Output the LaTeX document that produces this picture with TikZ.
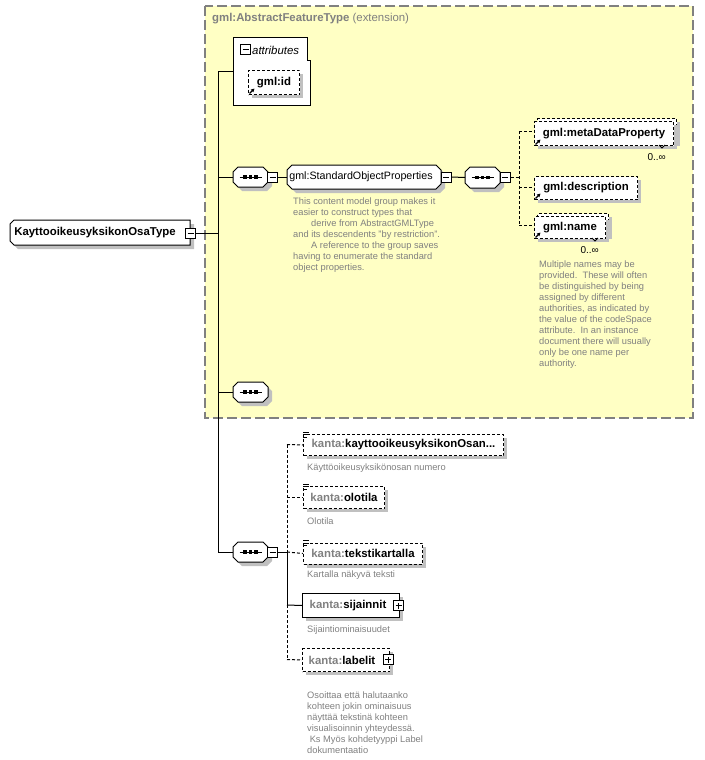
\documentclass[tikz,border=0pt]{standalone}
\usepackage{fontspec}
\setmainfont{Liberation Sans}
\usetikzlibrary{arrows.meta}
\definecolor{yel}{HTML}{FFFFC4}
\definecolor{shdcol}{HTML}{C0C0C0}
\definecolor{txtgray}{HTML}{808080}
\definecolor{bordgray}{HTML}{808080}
% outline with cut corners: x1 y1 x2 y2 (y downwards) leftcut rightcut
\newcommand\chamfpath[6]{%
  \fill[shdcol] ({#1+#5+4},{#2+4}) -- ({#3-#6+4},{#2+4}) -- ({#3+4},{#2+#6+4}) -- ({#3+4},{#4-#6+4})
    -- ({#3-#6+4},{#4+4}) -- ({#1+#5+4},{#4+4}) -- ({#1+4},{#4-#5+4}) -- ({#1+4},{#2+#5+4}) -- cycle;
  \draw[fill=white, line width=1pt] ({#1+#5},{#2}) -- ({#3-#6},{#2}) -- ({#3},{#2+#6}) -- ({#3},{#4-#6})
    -- ({#3-#6},{#4}) -- ({#1+#5},{#4}) -- ({#1},{#4-#5}) -- ({#1},{#2+#5}) -- cycle;}
% drop shadow of a box: x y w h (y downwards)
\newcommand\boxshadow[4]{\fill[shdcol] ({#1+4},{#2+4}) rectangle ({#1+#3+4},{#2+#4+4});}
\newcommand\seqsym[1]{%
  \draw[line width=1pt] ([xshift=-11pt]#1.center) -- ([xshift=11pt]#1.center);
  \foreach \dx in {-5.5,0,5.5} \fill[black] ([xshift=\dx pt]#1.center) +(-1.6,-1.6) rectangle +(1.6,1.6);}
\begin{document}
\begin{tikzpicture}[x=1pt,y=-1pt,
  elem/.style={draw, fill=white, line width=1pt, inner sep=0pt, anchor=north west,
     font=\fontsize{11.4}{13}\selectfont\bfseries},
  optl/.style={dash pattern=on 3pt off 2pt},
  conn/.style={line width=1pt},
  connopt/.style={line width=1pt, dash pattern=on 3pt off 2pt},
  anon/.style={inner sep=0pt, outer sep=0pt},
  pmbox/.style={draw, fill=white, line width=1pt, inner sep=0pt, minimum size=10pt},
  minusbox/.style={pmbox, path picture={\draw[line width=1pt] ([xshift=2pt]path picture bounding box.west) -- ([xshift=-2pt]path picture bounding box.east);}},
  plusbox/.style={pmbox, path picture={\draw[line width=1pt] ([xshift=2pt]path picture bounding box.west) -- ([xshift=-2pt]path picture bounding box.east);
       \draw[line width=1pt] ([yshift=2pt]path picture bounding box.south) -- ([yshift=-2pt]path picture bounding box.north);}},
  desc/.style={anchor=north west, inner sep=0pt, align=left, text=txtgray, font=\fontsize{9.3}{11}\selectfont},
  sdesc/.style={anchor=west, inner sep=0pt, text=txtgray, font=\fontsize{9.3}{11}\selectfont},
  mult/.style={anchor=east, inner sep=0pt, font=\fontsize{10}{12}\selectfont},
  refarrow/.style={line width=1.1pt, -{Triangle[length=3.5pt,width=3.5pt]}},
  icon/.style={line width=0.8pt}
]
\useasboundingbox (0,0) rectangle (704,760);

% extension container
\draw[fill=yel, draw=bordgray, line width=1.3pt, dash pattern=on 10pt off 4pt] (205,6) rectangle (693,418);
\node[anchor=west, inner sep=0pt, text=txtgray, font=\fontsize{11.4}{13}\selectfont] (ext) at (212,19)
  {\bfseries gml:AbstractFeatureType\mdseries{} (extension)};

% attributes
\draw[fill=white, line width=1pt] (233,38) -- (307,38) -- (307,61) -- (310,61) -- (310,105) -- (233,105) -- cycle;
\node[minusbox] (am) at (245.5,49.5) {};
\node[anchor=west, inner sep=0pt, font=\fontsize{11.4}{13}\selectfont\itshape] (attr) at (252,50) {attributes};
\boxshadow{248}{70}{51}{24}
\node[elem, optl, minimum width=51pt, minimum height=24pt] (gid) at (248,70) {gml:id};
\draw[refarrow] ([xshift=1.5pt,yshift=1.5pt]gid.south west) -- ++(5,-5);

% main element
\chamfpath{10}{220}{190}{245}{4}{0}
\node[anon, minimum width=180pt, minimum height=25pt, font=\fontsize{11.4}{13}\selectfont\bfseries]
  (main) at (100,232.5) {KayttooikeusyksikonOsaType\hspace*{10pt}};
\node[minusbox] (mm) at (190.5,233) {};

% main vertical line
\coordinate (vtop) at (218,72);
\coordinate (vbot) at (218,552);
\coordinate (attrin) at (233,72);
\draw[conn] (vtop) -- (vbot);
\draw[conn] (vtop) -- (attrin);
\draw[conn] (mm.east) -- (mm.east -| vtop);

% sequence 1 and group
\chamfpath{233}{167}{268}{187}{5}{5}
\node[anon, minimum width=35pt, minimum height=20pt] (s1) at (250.5,177) {};
\seqsym{s1}
\node[minusbox] (m1) at (272.5,177) {};
\draw[conn] (s1.west -| vtop) -- (s1.west);
\chamfpath{287}{165}{441}{189}{5}{5}
\node[anon, minimum width=154pt, minimum height=24pt, font=\fontsize{10.7}{13}\selectfont]
  (sop) at (364,177) {gml:StandardObjectProperties\hspace*{6pt}};
\node[minusbox] (m2) at (446,177) {};
\draw[conn] (m1.east) -- (sop.west);
\node[desc] (sopdesc) at (293,198) {This content model group makes it\\
easier to construct types that\\
\hspace*{18pt}derive from AbstractGMLType\\
and its descendents "by restriction".\\
\hspace*{18pt}A reference to the group saves\\
having to enumerate the standard\\
object properties.};

\chamfpath{465}{167}{500}{188}{5}{5}
\node[anon, minimum width=35pt, minimum height=21pt] (s2) at (482.5,177.5) {};
\seqsym{s2}
\node[minusbox] (m3) at (505,177) {};
\draw[conn] (m2.east) -- (s2.west);
\coordinate (j2) at (519,177);
\coordinate (ja) at (519,131);
\coordinate (jb) at (519,187.5);
\coordinate (jc) at (519,225);
\draw[connopt] (m3.east) -- (j2);
\draw[connopt] (ja) -- (jc);

% metaDataProperty (multiple)
\boxshadow{537}{118}{139}{24}
\node[elem, optl, minimum width=139pt, minimum height=24pt] (metab) at (537,118) {};
\boxshadow{534}{121}{139}{24}
\node[elem, optl, minimum width=139pt, minimum height=24pt] (meta) at (534,121) {gml:metaDataProperty};
\draw[refarrow] ([xshift=1.5pt,yshift=1.5pt]meta.south west) -- ++(5,-5);
\draw[line width=0.8pt] (659,145) -- (662,148) -- (665,145);
\node[mult] (metam) at (666,157) {0..∞};
\draw[connopt] (ja) -- (ja -| meta.west);

% description
\boxshadow{534}{176}{103}{23}
\node[elem, optl, minimum width=103pt, minimum height=23pt] (gdesc) at (534,176) {gml:description};
\draw[refarrow] ([xshift=1.5pt,yshift=1.5pt]gdesc.south west) -- ++(5,-5);
\draw[connopt] (jb) -- (jb -| gdesc.west);

% name (multiple)
\boxshadow{537}{213}{71}{22}
\node[elem, optl, minimum width=71pt, minimum height=22pt] (nameb) at (537,213) {};
\boxshadow{534}{216}{71}{22}
\node[elem, optl, minimum width=71pt, minimum height=22pt] (gname) at (534,216) {gml:name};
\draw[refarrow] ([xshift=1.5pt,yshift=1.5pt]gname.south west) -- ++(5,-5);
\draw[line width=0.8pt] (592,238) -- (595,241) -- (598,238);
\node[mult] (namem) at (599,250) {0..∞};
\draw[connopt] (jc) -- (jc -| gname.west);
\node[desc] (namedesc) at (539,261) {Multiple names may be\\
provided.\ \ These will often\\
be distinguished by being\\
assigned by different\\
authorities, as indicated by\\
the value of the codeSpace\\
attribute.\ \ In an instance\\
document there will usually\\
only be one name per\\
authority.};

% sequence 3 (empty)
\chamfpath{233}{382}{268}{402}{5}{5}
\node[anon, minimum width=35pt, minimum height=20pt] (s3) at (250.5,392) {};
\seqsym{s3}
\draw[conn] (s3.west -| vtop) -- (s3.west);

% sequence 4
\chamfpath{233}{542}{268}{562}{5}{5}
\node[anon, minimum width=35pt, minimum height=20pt] (s4) at (250.5,552) {};
\seqsym{s4}
\node[minusbox] (m4) at (272.5,552) {};
\draw[conn] (vbot) -- (s4.west);
\coordinate (ka) at (287,444.5);
\coordinate (kc) at (287,552);
\coordinate (kd) at (287,605);
\coordinate (ke) at (287,659.5);
\draw[conn] (m4.east) -- (kc);
\draw[connopt] (ka) -- (kc);
\draw[conn] (kc) -- (kd);
\draw[connopt] (kd) -- (ke);

% kanta elements
\boxshadow{303}{434}{200}{21}
\node[elem, optl, minimum width=200pt, minimum height=21pt] (k1) at (303,434)
  {\textcolor{txtgray}{kanta:}kayttooikeusyksikonOsan...};
\draw[icon] (303,432) -- ++(6,0) (303,434.5) -- ++(6,0) (303,437) -- ++(4,0);
\node[sdesc] (k1d) at (307,468) {Käyttöoikeusyksikönosan numero};
\draw[connopt] (ka) -- (k1.west);

\boxshadow{303}{486}{81}{22}
\node[elem, optl, minimum width=81pt, minimum height=22pt] (k2) at (303,486)
  {\textcolor{txtgray}{kanta:}olotila};
\draw[icon] (303,484) -- ++(6,0) (303,486.5) -- ++(6,0) (303,489) -- ++(4,0);
\node[sdesc] (k2d) at (307,521) {Olotila};
\draw[connopt] (k2.west -| ka) -- (k2.west);

\boxshadow{303}{542.5}{119}{21}
\node[elem, optl, minimum width=119pt, minimum height=21pt] (k3) at (303,542.5)
  {\textcolor{txtgray}{kanta:}tekstikartalla};
\draw[icon] (303,540.5) -- ++(6,0) (303,543) -- ++(6,0) (303,545.5) -- ++(4,0);
\node[sdesc] (k3d) at (307,575) {Kartalla näkyvä teksti};
\draw[connopt] (kc) -- (k3.west);

\boxshadow{302}{593}{97}{24}
\node[elem, minimum width=97pt, minimum height=24pt] (k4) at (302,593)
  {\textcolor{txtgray}{kanta:}sijainnit\hspace*{6pt}};
\node[plusbox] (p4) at (398.5,605.5) {};
\node[sdesc] (k4d) at (307,630) {Sijaintiominaisuudet};
\draw[conn] (kd) -- (k4.west);

\boxshadow{302}{648}{87}{23}
\node[elem, optl, minimum width=87pt, minimum height=23pt] (k5) at (302,648)
  {\textcolor{txtgray}{kanta:}labelit\hspace*{8pt}};
\node[plusbox] (p5) at (388,659.5) {};
\draw[connopt] (ke) -- (k5.west);
\node[desc] (k5d) at (307,692) {Osoittaa että halutaanko\\
kohteen jokin ominaisuus\\
näyttää tekstinä kohteen\\
visualisoinnin yhteydessä.\\
\ Ks Myös kohdetyyppi Label\\
dokumentaatio};
\end{tikzpicture}
\end{document}
